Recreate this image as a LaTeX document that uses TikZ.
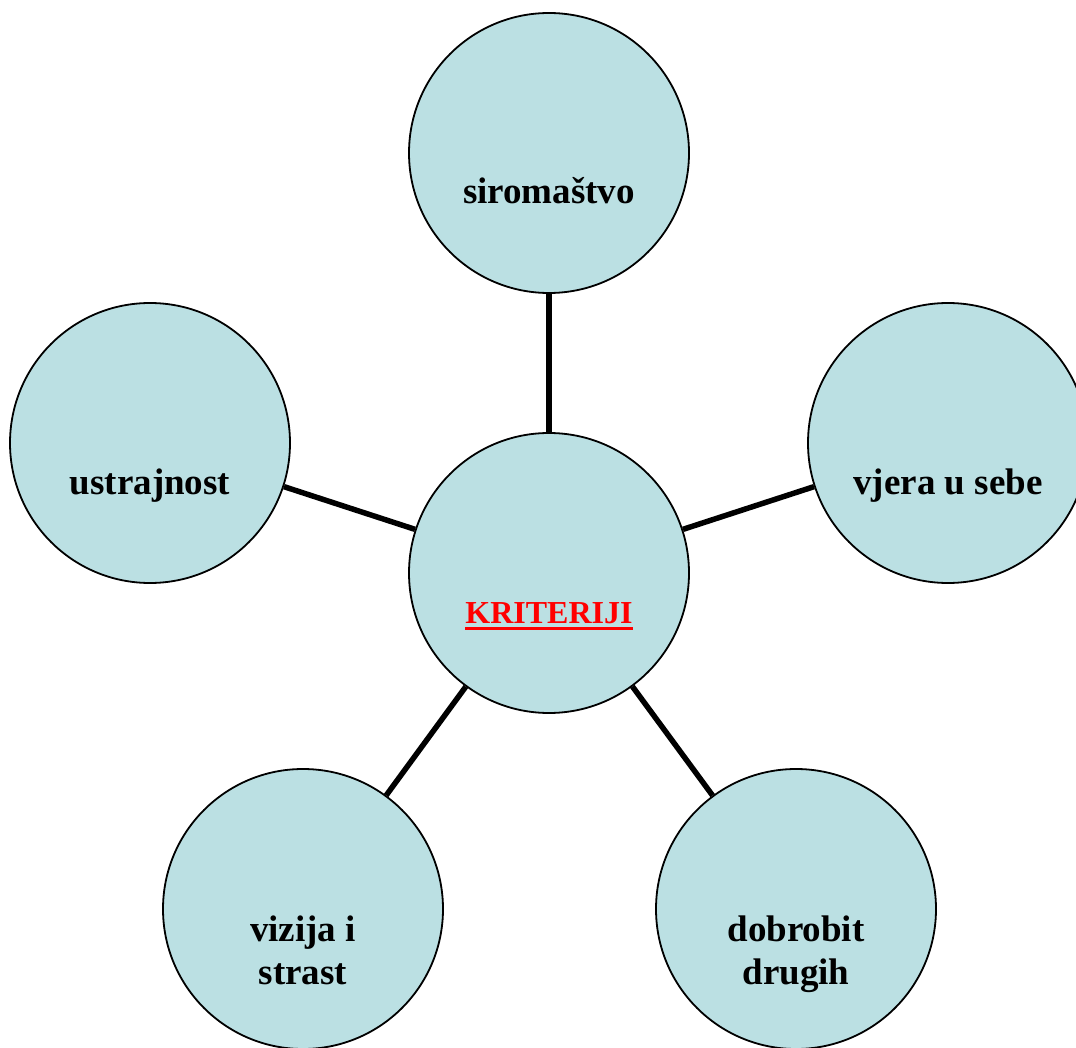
\documentclass[tikz,border=0pt]{standalone}
\usepackage{fontspec}
\setmainfont{Liberation Serif}
\definecolor{cfill}{HTML}{BBE0E3}
\begin{document}
\begin{tikzpicture}[x=1pt,y=-1pt,
  bubble/.style={circle,draw=black,line width=1.8pt,fill=cfill,minimum size=280pt,inner sep=0pt},
  conn/.style={line width=5.5pt,black},
  lbl/.style={anchor=base,inner sep=0pt,font=\bfseries\fontsize{37}{43}\selectfont},
  klbl/.style={anchor=base,inner sep=0pt,text=red,font=\bfseries\fontsize{32}{38}\selectfont}]
\useasboundingbox (0,0) rectangle (1076,1048);
\begin{scope}
\clip (0,0) rectangle (1076,1048);
\node[bubble] (c) at (549,573) {};
\node[bubble] (t) at (549,153) {};
\node[bubble] (r) at (948,443) {};
\node[bubble] (l) at (150,443) {};
\node[bubble] (bl) at (303,909) {};
\node[bubble] (br) at (796,909) {};
\draw[conn] (c) -- (t);
\draw[conn] (c) -- (r);
\draw[conn] (c) -- (l);
\draw[conn] (c) -- (bl);
\draw[conn] (c) -- (br);
\end{scope}
\node[lbl] (tt) at (549,204) {siromaštvo};
\node[lbl] (rt) at (948,494) {vjera u sebe};
\node[lbl] (lt) at (150,494) {ustrajnost};
\node[lbl] (blt1) at (303,941) {vizija i};
\node[lbl] (blt2) at (303,984) {strast};
\node[lbl] (brt1) at (796,941) {dobrobit};
\node[lbl] (brt2) at (796,984) {drugih};
\node[klbl] (ct) at (549,623) {KRITERIJI};
\draw[red,line width=3pt] ([yshift=-5.5pt]ct.base west) -- ([yshift=-5.5pt]ct.base east);
\end{tikzpicture}
\end{document}
